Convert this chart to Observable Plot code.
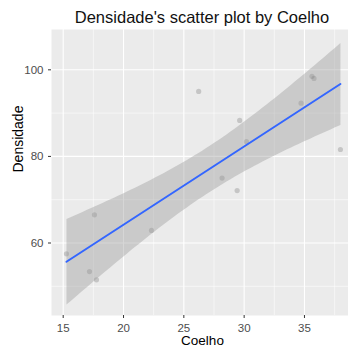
<!DOCTYPE html>
<html>
<head>
<meta charset="utf-8">
<script src="https://cdn.jsdelivr.net/npm/d3@7"></script>
<script src="https://cdn.jsdelivr.net/npm/@observablehq/plot@0.6"></script>
<style>
  html, body { margin: 0; padding: 0; background: #fff; }
  #chart { position: relative; width: 348px; height: 351px; overflow: hidden; font-family: "Liberation Sans", Arial, sans-serif; }
  #title { position: absolute; left: 51px; width: 302px; top: 9px; text-align: center; font-size: 16.5px; line-height: 1; color: #111; white-space: nowrap; }
  #plot { position: absolute; left: 0; top: 28px; }
</style>
</head>
<body>
<div id="chart">
  <div id="title">Densidade's scatter plot by Coelho</div>
  <div id="plot"></div>
</div>
<script>
// Observations: Coelho (x) against Densidade (y)
const coelho    = [15.27, 17.18, 17.59, 17.76, 22.32, 26.23, 28.17, 29.42, 29.63, 30.19, 34.72, 35.62, 35.79, 37.98];
const densidade = [57.5, 53.4, 66.5, 51.5, 62.9, 95.0, 75.0, 72.1, 88.3, 83.4, 92.3, 98.5, 98.0, 81.6];

// Axis ticks and grid lines
const xTicks = [15, 20, 25, 30, 35];
const xMinor = [17.5, 22.5, 27.5, 32.5, 37.5];
const yTicks = [60, 80, 100];
const yMinor = [50, 70, 90];

const data = coelho.map((c, i) => ({coelho: c, densidade: densidade[i]}));

const chart = Plot.plot({
  width: 348,
  height: 323,
  marginTop: 1,
  marginBottom: 36,
  marginLeft: 51,
  marginRight: 0,
  style: {fontFamily: "'Liberation Sans', Arial, sans-serif", background: "transparent"},
  x: {domain: [14.03, 38.65]},
  y: {domain: [43.26, 109.31]},
  marks: [
    Plot.frame({fill: "#EBEBEB", stroke: null}),
    Plot.ruleX(xMinor, {stroke: "#fff", strokeWidth: 0.55}),
    Plot.ruleY(yMinor, {stroke: "#fff", strokeWidth: 0.55}),
    Plot.ruleX(xTicks, {stroke: "#fff", strokeWidth: 1.1}),
    Plot.ruleY(yTicks, {stroke: "#fff", strokeWidth: 1.1}),
    Plot.dot(data, {x: "coelho", y: "densidade", r: 2.6, fill: "#000", fillOpacity: 0.16, stroke: null}),
    Plot.linearRegressionY(data, {
      x: "coelho", y: "densidade", ci: 0.95,
      stroke: "#3366FF", strokeWidth: 2, fill: "#999999", fillOpacity: 0.4
    }),
    Plot.axisX({ticks: xTicks, tickSize: 3, tickPadding: 5.5, stroke: "#333", fill: "#4D4D4D", fontSize: 11.5, label: null}),
    Plot.axisY({ticks: yTicks, tickSize: 3, tickPadding: 5, stroke: "#333", fill: "#4D4D4D", fontSize: 11.5, label: null}),
    Plot.text(["Coelho"], {frameAnchor: "bottom", lineAnchor: "bottom", dx: 2.5, dy: 29.5, fontSize: 13.5, fill: "#000"}),
    Plot.text(["Densidade"], {frameAnchor: "left", lineAnchor: "bottom", rotate: -90, dx: -28.5, fontSize: 14, fill: "#000"})
  ]
});
document.getElementById("plot").appendChild(chart);
</script>
</body>
</html>
